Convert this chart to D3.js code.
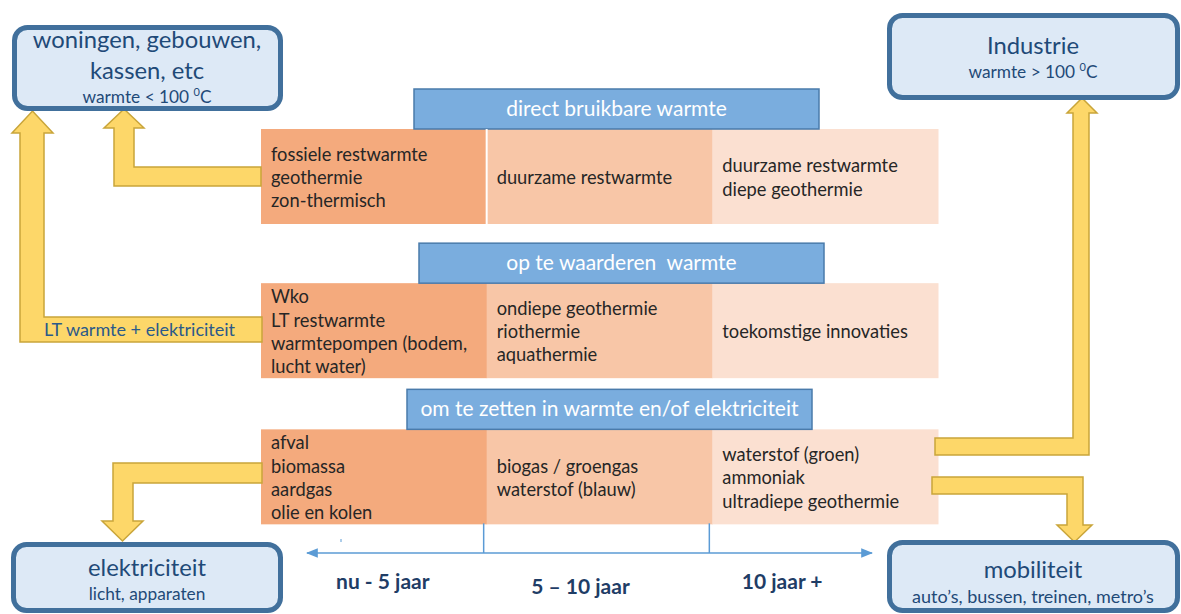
<!DOCTYPE html>
<html>
<head>
<meta charset="utf-8">
<script src="https://d3js.org/d3.v7.min.js"></script>
<style>
  body { margin: 0; background: #fff; }
  text { font-family: Lato, "Open Sans", sans-serif; }
</style>
</head>
<body>
<svg id="diagram" width="1181" height="614"></svg>
<script>
// ---- data ----
const periods = ["nu - 5 jaar", "5 \u2013 10 jaar", "10 jaar +"];
const categories = ["direct bruikbare warmte", "op te waarderen\u00a0 warmte", "om te zetten in warmte en/of elektriciteit"];
const sources = [
  [["fossiele restwarmte", "geothermie", "zon-thermisch"],
   ["duurzame restwarmte"],
   ["duurzame restwarmte", "diepe geothermie"]],
  [["Wko", "LT restwarmte", "warmtepompen (bodem,", "lucht water)"],
   ["ondiepe geothermie", "riothermie", "aquathermie"],
   ["toekomstige innovaties"]],
  [["afval", "biomassa", "aardgas", "olie en kolen"],
   ["biogas / groengas", "waterstof (blauw)"],
   ["waterstof (groen)", "ammoniak", "ultradiepe geothermie"]]
];
const useTitles = [["woningen, gebouwen,", "kassen, etc"], ["Industrie"], ["elektriciteit"], ["mobiliteit"]];
const useSubs = [["warmte < 100 ", "0", "C"], ["warmte > 100 ", "0", "C"], ["licht, apparaten"], ["auto\u2019s, bussen, treinen, metro\u2019s"]];
const flowLabel = "LT warmte + elektriciteit";

// ---- layout ----
const svg = d3.select("#diagram");
const cellColors = ["#f4aa7d", "#f8c6a7", "#fbe0d1"];
const blue = "#7aadde", blueStroke = "#4a7bab";
const textBlue = "#1f4a78";
const gold = "#fdd769", goldStroke = "#c9a53a";

const x = d3.scaleBand().domain(d3.range(periods.length)).range([261, 938]).paddingInner(0);
const y = d3.scaleBand().domain(d3.range(categories.length)).range([89, 526]).paddingInner(0.09);
const headerX = [414, 419, 407];
const rowNudge = [0, 4, 0];
const headerW = 405, headerH = 40, cellTop = 40, cellH = 95, lineH = 23.3;

// cells
sources.forEach((row, r) => {
  const top = y(r) + rowNudge[r];
  const g = svg.append("g");
  g.selectAll("rect").data(row).join("rect")
    .attr("x", (d, c) => x(c))
    .attr("y", top + cellTop)
    .attr("width", x.bandwidth() + 0.5)
    .attr("height", cellH)
    .attr("fill", (d, c) => cellColors[c]);
  row.forEach((lines, c) => {
    const cy = top + cellTop + cellH / 2;
    g.append("text")
      .attr("x", x(c) + 10)
      .attr("font-size", 18.3)
      .attr("fill", "#262626")
      .selectAll("tspan").data(lines).join("tspan")
      .attr("x", x(c) + 10)
      .attr("y", (d, i) => cy + (i - (lines.length - 1) / 2) * lineH + 7.5)
      .text(d => d);
  });
  // header
  svg.append("rect")
    .attr("x", headerX[r]).attr("y", top)
    .attr("width", headerW).attr("height", headerH)
    .attr("fill", blue).attr("stroke", blueStroke).attr("stroke-width", 1.5);
  svg.append("text")
    .attr("x", headerX[r] + headerW / 2).attr("y", top + headerH / 2 + 7)
    .attr("text-anchor", "middle").attr("font-size", 21).attr("fill", "#fff")
    .text(categories[r]);
});
// white separator in first row
svg.append("line")
  .attr("x1", x(1)).attr("x2", x(1))
  .attr("y1", y(0) + cellTop).attr("y2", y(0) + cellTop + cellH)
  .attr("stroke", "#fff").attr("stroke-width", 2);

// yellow arrows
const arrows = [
  [[261,167],[134,167],[134,128],[144,128],[124,109],[104,128],[114,128],[114,186],[261,186]],
  [[262,317],[44,317],[44,133],[53,133],[32.5,111],[12,133],[20,133],[20,342],[262,342]],
  [[262,463],[113,463],[113,521],[102,521],[122.5,541],[143,521],[133,521],[133,483],[262,483]],
  [[935,438],[1073,438],[1073,113],[1067,113],[1082,98],[1097,113],[1089,113],[1089,455],[935,455]],
  [[932,477],[1083,477],[1083,525],[1092,525],[1074.5,542],[1057,525],[1067,525],[1067,494],[932,494]]
];
const line = d3.line();
svg.selectAll("path.flow").data(arrows).join("path")
  .attr("class", "flow")
  .attr("d", d => line(d) + "Z")
  .attr("fill", gold).attr("stroke", goldStroke).attr("stroke-width", 1.5)
  .attr("stroke-linejoin", "miter");
svg.append("text")
  .attr("x", 44).attr("y", 336)
  .attr("font-size", 18).attr("fill", "#2b5a8a")
  .text(flowLabel);

// end-use boxes
const boxes = [
  { x: 14.5, y: 27.5, w: 266, h: 81, cx: 147, ty: [48, 79], sy: 103 },
  { x: 889.5, y: 15.5, w: 288, h: 82, cx: 1033, ty: [54], sy: 78 },
  { x: 13.5, y: 544.5, w: 267, h: 66, cx: 147, ty: [576], sy: 600 },
  { x: 889.5, y: 542.5, w: 288, h: 68, cx: 1033, ty: [578], sy: 603 }
];
boxes.forEach((b, i) => {
  svg.append("rect")
    .attr("x", b.x).attr("y", b.y).attr("width", b.w).attr("height", b.h)
    .attr("rx", 13).attr("fill", "#dde9f6")
    .attr("stroke", "#41709c").attr("stroke-width", 5);
  useTitles[i].forEach((t, j) => {
    svg.append("text")
      .attr("x", b.cx).attr("y", b.ty[j])
      .attr("text-anchor", "middle").attr("font-size", 23.8).attr("fill", textBlue)
      .text(t);
  });
  const sub = svg.append("text")
    .attr("x", b.cx).attr("y", b.sy)
    .attr("text-anchor", "middle").attr("font-size", i === 3 ? 18 : 17.3).attr("fill", textBlue);
  const parts = useSubs[i];
  sub.append("tspan").text(parts[0]);
  if (parts.length > 1) {
    sub.append("tspan").attr("font-size", 11).attr("dy", -7).text(parts[1]);
    sub.append("tspan").attr("dy", 7).text(parts[2]);
  }
});

// timeline
const tlY = 553, axisBlue = "#5b9bd5";
const defs = svg.append("defs");
defs.append("marker").attr("id", "ah")
  .attr("viewBox", "0 0 10 10").attr("refX", 9).attr("refY", 5)
  .attr("markerWidth", 8).attr("markerHeight", 8)
  .attr("orient", "auto-start-reverse")
  .append("path").attr("d", "M0,1 L10,5 L0,9 Z").attr("fill", axisBlue);
svg.append("line")
  .attr("x1", 307).attr("x2", 872).attr("y1", tlY).attr("y2", tlY)
  .attr("stroke", axisBlue).attr("stroke-width", 1.5)
  .attr("marker-start", "url(#ah)").attr("marker-end", "url(#ah)");
svg.selectAll("line.tick").data([1, 2]).join("line")
  .attr("class", "tick")
  .attr("x1", d => x(d) - 3).attr("x2", d => x(d) - 3)
  .attr("y1", y(2) + cellTop + cellH - 1).attr("y2", tlY)
  .attr("stroke", axisBlue).attr("stroke-width", 1.5);
svg.append("line")
  .attr("x1", 341).attr("x2", 341).attr("y1", 539).attr("y2", 542)
  .attr("stroke", axisBlue).attr("stroke-width", 1);
const labelShift = [9, -19, -43];
const labelBase = [589, 594, 589];
svg.selectAll("text.period").data(periods).join("text")
  .attr("class", "period")
  .attr("x", (d, i) => x(i) + x.bandwidth() / 2 + labelShift[i])
  .attr("y", (d, i) => labelBase[i])
  .attr("text-anchor", "middle").attr("font-size", 21).attr("font-weight", "bold")
  .attr("fill", "#1f3d66")
  .text(d => d);
</script>
</body>
</html>
